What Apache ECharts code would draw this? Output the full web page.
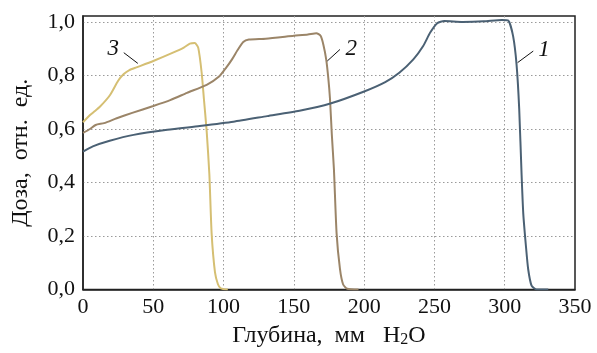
<!DOCTYPE html>
<html>
<head>
<meta charset="utf-8">
<script src="https://cdn.jsdelivr.net/npm/echarts@6/dist/echarts.min.js"></script>
<style>
  html, body { margin: 0; padding: 0; background: #fff; }
  #chart { width: 597px; height: 353px; }
</style>
</head>
<body>
<div id="chart"></div>
<script>
// Depth (mm H2O) / relative dose
const curve1X = [0, 7, 19, 36, 60, 83, 107, 131, 154, 176, 200, 215, 225, 235, 242, 247, 252, 257, 270, 285, 298, 302.5, 306, 308.4, 310.3, 312, 313.2, 315.1, 316.7, 319.1, 322.7, 331];
const curve1Y = [0.515, 0.535, 0.556, 0.578, 0.597, 0.611, 0.627, 0.648, 0.668, 0.695, 0.74, 0.775, 0.81, 0.86, 0.91, 0.96, 0.995, 1.003, 1.0, 1.002, 1.007, 1.005, 0.946, 0.842, 0.676, 0.43, 0.284, 0.162, 0.076, 0.015, 0, 0];

const curve2X = [0, 5, 9, 15, 24, 35, 50, 62, 74, 88, 97, 102, 106, 110, 114, 118, 130, 150, 160, 166, 169, 171, 173, 174.5, 175.7, 177, 178.5, 180.4, 182.8, 185, 188, 196];
const curve2Y = [0.585, 0.6, 0.615, 0.622, 0.64, 0.66, 0.686, 0.708, 0.735, 0.765, 0.797, 0.83, 0.86, 0.895, 0.925, 0.934, 0.937, 0.948, 0.953, 0.958, 0.948, 0.915, 0.86, 0.79, 0.713, 0.58, 0.45, 0.21, 0.077, 0.02, 0.003, 0];

const curve3X = [0, 5, 8, 12, 19, 25, 29, 33, 38, 50, 64, 72, 76, 79.5, 82, 84.4, 86, 88, 89.9, 91.5, 93.9, 96, 98, 103];
const curve3Y = [0.625, 0.652, 0.665, 0.683, 0.725, 0.78, 0.805, 0.82, 0.83, 0.854, 0.885, 0.905, 0.919, 0.921, 0.903, 0.811, 0.713, 0.59, 0.43, 0.21, 0.064, 0.02, 0.005, 0];

const xTicks = [0, 50, 100, 150, 200, 250, 300, 350];
const yTicks = [0, 0.2, 0.4, 0.6, 0.8, 1.0];

// curve labels and their leader lines: [labelX, labelY, lineFromX, lineFromY, lineToX, lineToY]
const curveNames = ['1', '2', '3'];
const curveLabels = [
  [327.9, 0.897, 320.3, 0.891, 309.2, 0.848],
  [190.8, 0.90, 182.8, 0.897, 173.8, 0.854],
  [21.6, 0.90, 29, 0.885, 39, 0.845]
];

const colors = ['#4b6174', '#9b8568', '#d5bf73'];
const FONT = 'Liberation Serif';

const zip = (xs, ys) => xs.map((x, i) => [x, ys[i]]);
const gridGray = '#9a9a9a';

function makeSeries(idx, xs, ys) {
  const l = curveLabels[idx];
  return {
    type: 'line',
    data: zip(xs, ys),
    showSymbol: false,
    smooth: 0.2,
    lineStyle: { color: colors[idx], width: 2 },
    z: 3 - idx,
    markLine: {
      silent: true,
      symbol: 'none',
      label: { show: false },
      lineStyle: { color: '#111', width: 1, type: 'solid' },
      data: [[{ coord: [l[2], l[3]] }, { coord: [l[4], l[5]] }]]
    },
    markPoint: {
      silent: true,
      symbol: 'circle',
      symbolSize: 0,
      label: {
        show: true,
        position: 'inside',
        formatter: curveNames[idx],
        fontFamily: FONT,
        fontStyle: 'italic',
        fontSize: 23,
        color: '#111'
      },
      data: [{ coord: [l[0], l[1]] }]
    }
  };
}

const chart = echarts.init(document.getElementById('chart'), null, { renderer: 'canvas' });

chart.setOption({
  animation: false,
  grid: {
    left: 83, right: 22, top: 16, bottom: 59,
    show: true, borderColor: '#222', borderWidth: 1.5, backgroundColor: 'transparent'
  },
  xAxis: {
    type: 'value',
    min: xTicks[0],
    max: xTicks[xTicks.length - 1],
    interval: 50,
    axisLine: { show: true, lineStyle: { color: '#222', width: 1.5 } },
    axisTick: { show: false },
    axisLabel: { color: '#111', fontFamily: FONT, fontSize: 22, margin: 7 },
    splitLine: {
      show: true,
      lineStyle: {
        color: xTicks.map((v, i) => (i === 0 || i === xTicks.length - 1) ? 'rgba(0,0,0,0)' : gridGray),
        type: [1.5, 2.5], width: 1
      }
    },
    name: '{a|Глубина,  мм   H}{s|2}{a|O}',
    nameLocation: 'middle',
    nameGap: 33,
    nameTextStyle: {
      rich: {
        a: { fontFamily: FONT, fontSize: 24, color: '#111' },
        s: { fontFamily: FONT, fontSize: 16, color: '#111', verticalAlign: 'bottom', padding: [9, 0, 0, 0] }
      }
    }
  },
  yAxis: {
    type: 'value',
    min: 0,
    max: 1.022,
    interval: 0.2,
    axisLine: { show: true, lineStyle: { color: '#222', width: 1.5 } },
    axisTick: { show: false },
    axisLabel: {
      color: '#111', fontFamily: FONT, fontSize: 22, margin: 8,
      formatter: v => yTicks.some(t => Math.abs(t - v) < 1e-6) ? v.toFixed(1).replace('.', ',') : ''
    },
    splitLine: {
      show: true,
      lineStyle: {
        color: [...yTicks.map((v, i) => i === 0 ? 'rgba(0,0,0,0)' : gridGray), 'rgba(0,0,0,0)'],
        type: [1.5, 2.5], width: 1
      }
    },
    name: 'Доза,  отн.  ед.',
    nameLocation: 'middle',
    nameGap: 50,
    nameTextStyle: { fontFamily: FONT, fontSize: 24, color: '#111' }
  },
  series: [
    makeSeries(0, curve1X, curve1Y),
    makeSeries(1, curve2X, curve2Y),
    makeSeries(2, curve3X, curve3Y)
  ]
});
</script>
</body>
</html>
